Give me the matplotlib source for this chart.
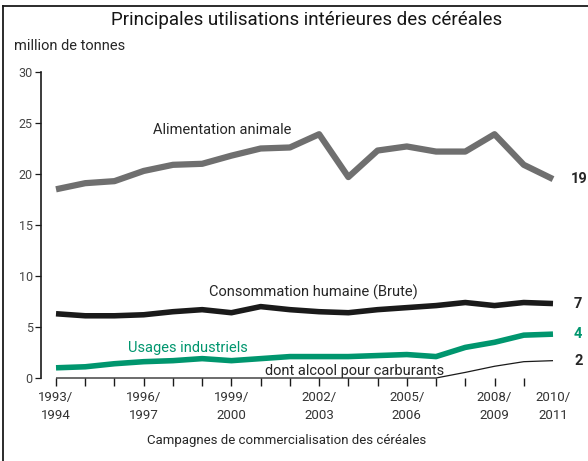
import matplotlib
matplotlib.use("Agg")
import matplotlib.pyplot as plt
from matplotlib.lines import Line2D

# campaigns 1993/94 .. 2010/11 (index 0..17)
saisons = ["1993/\n1994", "", "", "1996/\n1997", "", "", "1999/\n2000", "", "",
           "2002/\n2003", "", "", "2005/\n2006", "", "", "2008/\n2009", "", "2010/\n2011"]

# million de tonnes
alim_animale = [18.5, 19.1, 19.3, 20.3, 20.9, 21.0, 21.8, 22.5, 22.6, 23.9,
                19.7, 22.3, 22.7, 22.2, 22.2, 23.9, 20.9, 19.5]
conso_humaine = [6.3, 6.1, 6.1, 6.2, 6.5, 6.7, 6.4, 7.0, 6.7, 6.5,
                 6.4, 6.7, 6.9, 7.1, 7.4, 7.1, 7.4, 7.3]
usages_indus = [1.0, 1.1, 1.4, 1.6, 1.7, 1.9, 1.7, 1.9, 2.1, 2.1,
                2.1, 2.2, 2.3, 2.1, 3.0, 3.5, 4.2, 4.3]
alcool_carb = [0, 0, 0, 0, 0, 0, 0, 0, 0, 0,
               0, 0, 0, 0, 0.55, 1.15, 1.6, 1.7]

yticks = [0, 5, 10, 15, 20, 25, 30]

plt.rcParams["font.family"] = ["Roboto", "DejaVu Sans"]

GREY = "#6f6f6f"
BLACK = "#1a1a1a"
GREEN = "#00966e"
TXT = "#262626"

W, H = 588, 461
fig = plt.figure(figsize=(W / 100, H / 100), dpi=100)

# axes placed in pixels: spine at x=41, point 0 at x=56, point 17 at x=553
px_unit = (553 - 56) / 17
left_px, right_px = 41, 562
bot_px, top_px = 461 - 378, 461 - 72
ax = fig.add_axes([left_px / W, bot_px / H, (right_px - left_px) / W, (top_px - bot_px) / H])
ax.set_xlim((left_px - 56) / px_unit, (right_px - 56) / px_unit)
ax.set_ylim(0, 30)

x = list(range(len(saisons)))
ax.plot(x, alcool_carb, color=BLACK, lw=0.9, clip_on=False, solid_capstyle="butt")
ax.plot(x, usages_indus, color=GREEN, lw=4, clip_on=False, solid_capstyle="butt")
ax.plot(x, conso_humaine, color=BLACK, lw=4, clip_on=False, solid_capstyle="butt")
ax.plot(x, alim_animale, color=GREY, lw=4.5, clip_on=False, solid_capstyle="butt")

for s in ["top", "right", "bottom"]:
    ax.spines[s].set_visible(False)
ax.spines["left"].set_color(BLACK)
ax.spines["left"].set_linewidth(1.2)

ax.set_yticks(yticks)
ax.set_yticklabels([str(v) for v in yticks], fontsize=9, color="#444444")
ax.tick_params(axis="y", length=4, width=0.9, pad=2, color=BLACK)

ax.set_xticks(x[:-1])
ax.set_xticklabels(saisons[:-1], fontsize=9.5, color="#333333", linespacing=1.5)
ax.set_xticks([x[-1]], [saisons[-1]], minor=True, fontsize=9.5, color="#333333", linespacing=1.5)
ax.tick_params(axis="x", which="major", length=6, width=1, pad=3, color=BLACK)
ax.tick_params(axis="x", which="minor", length=0, pad=9)

# series labels
ax.text(5.7, 24.3, "Alimentation animale", fontsize=10.5, color=TXT, ha="center", va="center")
ax.text(8.8, 8.4, "Consommation humaine (Brute)", fontsize=10.5, color=TXT, ha="center", va="center")
ax.text(4.5, 2.9, "Usages industriels", fontsize=10.5, color=GREEN, ha="center", va="center")
ax.text(10.2, 0.7, "dont alcool pour carburants", fontsize=10.5, color=TXT, ha="center", va="center")

# end values
ax.text(17.62, alim_animale[-1], "19", fontsize=10.5, color=TXT, ha="left", va="center", fontweight="bold")
ax.text(17.72, conso_humaine[-1], "7", fontsize=10.5, color=TXT, ha="left", va="center", fontweight="bold")
ax.text(17.72, usages_indus[-1], "4", fontsize=10.5, color=GREEN, ha="left", va="center", fontweight="bold")
ax.text(17.72, alcool_carb[-1], "2", fontsize=10.5, color=TXT, ha="left", va="center", fontweight="bold")

fig.text(307 / W, 1 - 20 / H, "Principales utilisations intérieures des céréales",
         fontsize=13.5, color="#151515", ha="center", va="center")
fig.text(14 / W, 1 - 46 / H, "million de tonnes", fontsize=10.5, color=TXT, ha="left", va="center")
fig.text(287 / W, 1 - 440 / H, "Campagnes de commercialisation des céréales",
         fontsize=9.5, color=TXT, ha="center", va="center")

# frame lines (top and left)
fig.add_artist(Line2D([3 / W, 1], [1 - 6 / H, 1 - 6 / H], color=BLACK, lw=1.3))
fig.add_artist(Line2D([3 / W, 3 / W], [0, 1 - 6 / H], color=BLACK, lw=1.3))

fig.savefig("out.png", dpi=100)
